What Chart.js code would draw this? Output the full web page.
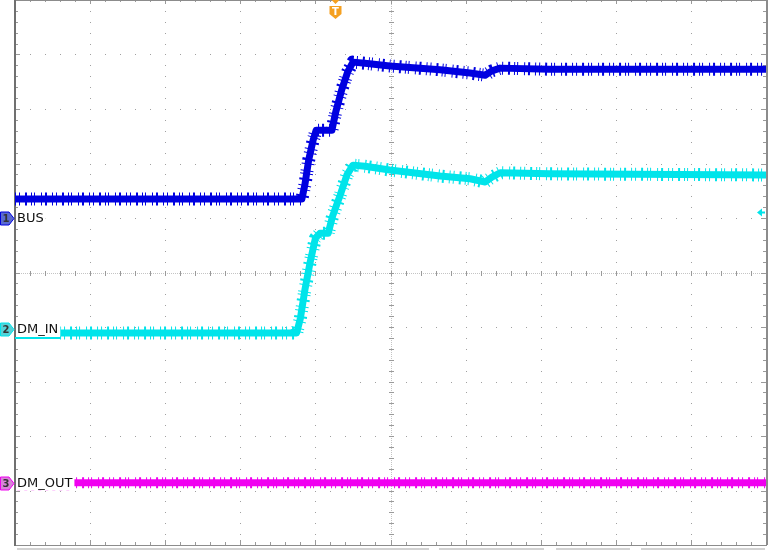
<!DOCTYPE html>
<html>
<head>
<meta charset="utf-8">
<script src="https://cdn.jsdelivr.net/npm/chart.js@4"></script>
<style>
  html, body { margin: 0; padding: 0; background: #fff; }
  #scope { display: block; }
</style>
</head>
<body>
<canvas id="scope" width="769" height="550"></canvas>
<script>
// values in screen divisions (10 x 10 graticule)
var busX = [0, 3.82, 3.86, 3.91, 3.97, 4.01, 4.22, 4.27, 4.35, 4.43, 4.50, 4.66, 4.99, 5.66, 6.06, 6.26, 6.35, 6.46, 7.12, 10];
var busY = [6.35, 6.35, 6.61, 7.06, 7.43, 7.61, 7.61, 7.94, 8.35, 8.68, 8.86, 8.84, 8.79, 8.72, 8.66, 8.62, 8.70, 8.75, 8.73, 8.73];

var dmInX = [0.60, 3.75, 3.80, 3.86, 3.93, 4.00, 4.06, 4.17, 4.23, 4.33, 4.42, 4.50, 4.66, 4.99, 5.66, 6.06, 6.26, 6.35, 6.46, 7.12, 10];
var dmInY = [3.89, 3.89, 4.16, 4.68, 5.19, 5.63, 5.72, 5.72, 6.04, 6.42, 6.79, 6.97, 6.95, 6.88, 6.77, 6.72, 6.66, 6.75, 6.83, 6.81, 6.79];
var dmInLeadX = [0, 0.60];
var dmInLeadY = [3.80, 3.80];

var dmOutX = [0.76, 10];
var dmOutY = [1.14, 1.14];
var dmOutLeadX = [0.03, 0.76];
var dmOutLeadY = [1.02, 1.02];

var channelNames = ["BUS", "DM_IN", "DM_OUT"];
var channelLevels = [6.0, 3.96, 1.14];
var triggerPos = 4.26;
var triggerLevel = 6.11;

var BLUE = '#0000e0';
var CYAN = '#00e4ea';
var MAGENTA = '#f000f0';

// sparse irregular dash on a wide under-stroke: spiky edges like scope noise
var FUZZ = [1, 3, 1, 5, 2, 4, 1, 2, 1, 6, 1, 3, 2, 5];

function pts(xs, ys) {
    return xs.map(function (v, i) { return { x: v, y: ys[i] }; });
}

function trace(xs, ys, color, width, extra) {
    var ds = {
        data: pts(xs, ys),
        borderColor: color,
        borderWidth: width,
        pointRadius: 0,
        tension: 0,
        borderJoinStyle: 'round',
        fill: false
    };
    for (var k in extra || {}) ds[k] = extra[k];
    return ds;
}

var graticule = {
    id: 'graticule',
    beforeDatasetsDraw: function (chart) {
        var ctx = chart.ctx, a = chart.chartArea;
        var x = chart.scales.x, y = chart.scales.y;
        var i, k, px, py;
        ctx.save();
        ctx.fillStyle = '#a0a0a0';
        // dotted division lines
        for (i = 1; i < 10; i++) {
            if (i === 5) continue;
            px = Math.round(x.getPixelForValue(i));
            for (k = 0; k <= 50; k++) {
                py = Math.round(y.getPixelForValue(k * 0.2));
                ctx.fillRect(px, py, 1, 1);
            }
            py = Math.round(y.getPixelForValue(i));
            for (k = 0; k <= 50; k++) {
                px = Math.round(x.getPixelForValue(k * 0.2));
                ctx.fillRect(px, py, 1, 1);
            }
        }
        // center axes with ticks
        var cx = Math.round(x.getPixelForValue(5)), cy = Math.round(y.getPixelForValue(5));
        ctx.fillStyle = '#c4c4c4';
        for (py = a.top; py < a.bottom; py += 2) ctx.fillRect(cx, py, 1, 1);
        for (px = a.left; px < a.right; px += 2) ctx.fillRect(px, cy, 1, 1);
        ctx.fillStyle = '#9a9a9a';
        for (k = 0; k <= 50; k++) {
            py = Math.round(y.getPixelForValue(k * 0.2));
            ctx.fillRect(cx - 2, py, 5, 1);
            px = Math.round(x.getPixelForValue(k * 0.2));
            ctx.fillRect(px, cy - 2, 1, 5);
        }
        // border ticks
        for (k = 1; k < 50; k++) {
            var len = (k % 5 === 0) ? 5 : 3;
            py = Math.round(y.getPixelForValue(k * 0.2));
            ctx.fillRect(a.left, py, len, 1);
            ctx.fillRect(a.right - len, py, len, 1);
            px = Math.round(x.getPixelForValue(k * 0.2));
            ctx.fillRect(px, a.top, 1, len - 1);
            ctx.fillRect(px, a.bottom - len, 1, len);
        }
        // frame
        ctx.fillStyle = '#8c8c8c';
        ctx.fillRect(a.left, a.top, a.right - a.left, 1);
        ctx.fillRect(a.left, a.bottom, a.right - a.left + 1, 1);
        ctx.fillRect(a.right, a.top, 2, a.bottom - a.top);
        ctx.fillStyle = '#707070';
        ctx.fillRect(a.left - 1, a.top, 2, a.bottom - a.top + 1);
        // status strip below graticule
        ctx.fillStyle = '#d2d2d2';
        ctx.fillRect(17, a.bottom + 3, 412, 3);
        ctx.fillRect(439, a.bottom + 3, 105, 3);
        ctx.fillRect(556, a.bottom + 3, 74, 3);
        ctx.fillRect(641, a.bottom + 3, 124, 3);
        ctx.restore();
    },
    afterDatasetsDraw: function (chart) {
        var ctx = chart.ctx, a = chart.chartArea;
        var x = chart.scales.x, y = chart.scales.y;
        var fills = ['#5a6ad0', '#55d2d8', '#d884d8'];
        var edges = [BLUE, CYAN, MAGENTA];
        ctx.save();
        channelLevels.forEach(function (lv, i) {
            var py = Math.round(y.getPixelForValue(lv)) + 0.5;
            ctx.beginPath();
            ctx.moveTo(0.5, py - 6.5);
            ctx.lineTo(9, py - 6.5);
            ctx.lineTo(14, py);
            ctx.lineTo(9, py + 6.5);
            ctx.lineTo(0.5, py + 6.5);
            ctx.closePath();
            ctx.fillStyle = fills[i];
            ctx.fill();
            ctx.strokeStyle = edges[i];
            ctx.lineWidth = 1;
            ctx.stroke();
            ctx.fillStyle = '#333';
            ctx.font = 'bold 10px "DejaVu Sans"';
            ctx.textAlign = 'center';
            ctx.textBaseline = 'middle';
            ctx.fillText(String(i + 1), 6, py + 0.5);
            // channel label on a white field
            ctx.font = '13px "DejaVu Sans"';
            ctx.textAlign = 'left';
            var w = ctx.measureText(channelNames[i]).width;
            ctx.fillStyle = '#fff';
            ctx.fillRect(a.left + 1, py - 7, w + 3, 14);
            ctx.fillStyle = '#111';
            ctx.fillText(channelNames[i], a.left + 2, py);
        });
        // trigger position marker
        var tx = Math.round(x.getPixelForValue(triggerPos)) + 0.5;
        ctx.fillStyle = '#f5a020';
        ctx.beginPath();
        ctx.moveTo(tx - 4, 0); ctx.lineTo(tx + 4, 0); ctx.lineTo(tx, 4); ctx.closePath();
        ctx.fill();
        ctx.beginPath();
        ctx.moveTo(tx - 6, 6); ctx.lineTo(tx + 6, 6); ctx.lineTo(tx + 6, 14);
        ctx.lineTo(tx, 19); ctx.lineTo(tx - 6, 14); ctx.closePath();
        ctx.fill();
        ctx.fillStyle = '#fff';
        ctx.font = 'bold 10px "DejaVu Sans"';
        ctx.textAlign = 'center';
        ctx.textBaseline = 'middle';
        ctx.fillText('T', tx, 12);
        // trigger level marker
        var ly = Math.round(y.getPixelForValue(triggerLevel)) + 0.5;
        ctx.fillStyle = CYAN;
        ctx.beginPath();
        ctx.moveTo(a.right - 9, ly); ctx.lineTo(a.right - 4, ly - 4); ctx.lineTo(a.right - 4, ly + 4);
        ctx.closePath();
        ctx.fill();
        ctx.fillRect(a.right - 5, ly - 1, 4, 2);
        ctx.restore();
    }
};

new Chart(document.getElementById('scope'), {
    type: 'line',
    data: {
        datasets: [
            trace(dmOutLeadX, dmOutLeadY, 'rgba(240,0,240,0.7)', 2, { borderDash: [3, 4] }),
            trace(dmOutX, dmOutY, MAGENTA, 11, { borderDash: FUZZ, borderCapStyle: 'butt' }),
            trace(dmOutX, dmOutY, MAGENTA, 7),
            trace(dmInLeadX, dmInLeadY, CYAN, 2),
            trace(dmInX, dmInY, CYAN, 13, { borderDash: FUZZ, borderCapStyle: 'butt' }),
            trace(dmInX, dmInY, CYAN, 7),
            trace(busX, busY, BLUE, 13, { borderDash: FUZZ, borderCapStyle: 'butt' }),
            trace(busX, busY, BLUE, 7)
        ]
    },
    options: {
        responsive: false,
        animation: false,
        layout: { padding: { left: 15, right: 3, top: 0, bottom: 5 } },
        plugins: { legend: { display: false }, tooltip: { enabled: false } },
        scales: {
            x: { type: 'linear', min: 0, max: 10, display: false },
            y: { type: 'linear', min: 0, max: 10, display: false }
        }
    },
    plugins: [graticule]
});
</script>
</body>
</html>
